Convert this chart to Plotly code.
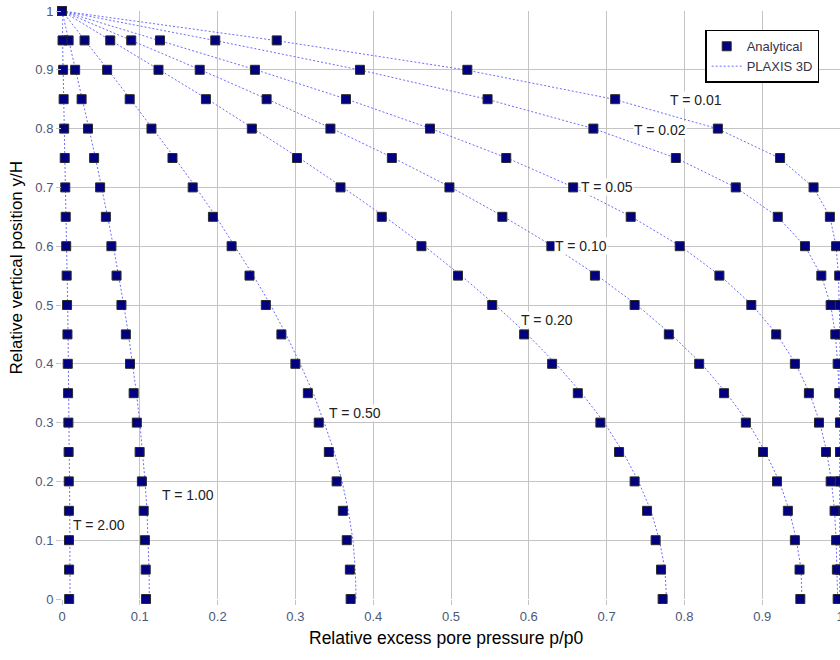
import plotly.graph_objects as go

# Relative vertical position y/H (top to bottom)
y_pos = [1.00, 0.95, 0.90, 0.85, 0.80, 0.75, 0.70, 0.65, 0.60, 0.55, 0.50,
         0.45, 0.40, 0.35, 0.30, 0.25, 0.20, 0.15, 0.10, 0.05, 0.00]

time_labels = ["T = 0.01", "T = 0.02", "T = 0.05", "T = 0.10",
               "T = 0.20", "T = 0.50", "T = 1.00", "T = 2.00"]

# Analytical solution p/p0
ana_t001 = [0.000, 0.276, 0.521, 0.711, 0.843, 0.923, 0.966, 0.987, 0.995, 0.999, 1.000,
            1.000, 1.000, 1.000, 1.000, 1.000, 1.000, 1.000, 1.000, 1.000, 1.000]
ana_t002 = [0.000, 0.197, 0.383, 0.547, 0.683, 0.789, 0.866, 0.920, 0.955, 0.976, 0.988,
            0.994, 0.997, 0.999, 1.000, 1.000, 1.000, 1.000, 1.000, 1.000, 1.000]
ana_t005 = [0.000, 0.126, 0.248, 0.365, 0.473, 0.571, 0.657, 0.731, 0.794, 0.845, 0.886,
            0.918, 0.942, 0.960, 0.973, 0.982, 0.988, 0.993, 0.995, 0.996, 0.997]
ana_t010 = [0.000, 0.089, 0.177, 0.263, 0.345, 0.424, 0.498, 0.566, 0.629, 0.685, 0.736,
            0.780, 0.819, 0.851, 0.879, 0.901, 0.919, 0.933, 0.942, 0.948, 0.949]
ana_t020 = [0.000, 0.062, 0.124, 0.185, 0.244, 0.302, 0.358, 0.411, 0.462, 0.509, 0.553,
            0.594, 0.630, 0.663, 0.692, 0.716, 0.736, 0.752, 0.763, 0.770, 0.772]
ana_t050 = [0.000, 0.029, 0.058, 0.087, 0.115, 0.142, 0.168, 0.194, 0.218, 0.241, 0.262,
            0.282, 0.300, 0.316, 0.330, 0.343, 0.353, 0.361, 0.366, 0.370, 0.371]
ana_t100 = [0.0000, 0.0085, 0.0169, 0.0252, 0.0334, 0.0413, 0.0490, 0.0564, 0.0635, 0.0701, 0.0764,
            0.0821, 0.0874, 0.0921, 0.0962, 0.0998, 0.1027, 0.1050, 0.1066, 0.1076, 0.1080]
ana_t200 = [0.0000, 0.0007, 0.0014, 0.0021, 0.0028, 0.0035, 0.0042, 0.0048, 0.0054, 0.0060, 0.0065,
            0.0070, 0.0074, 0.0078, 0.0082, 0.0085, 0.0087, 0.0089, 0.0090, 0.0091, 0.0092]

# PLAXIS 3D results p/p0
plx_t001 = [0.000, 0.274, 0.518, 0.709, 0.842, 0.922, 0.966, 0.987, 0.995, 0.998, 0.999,
            1.000, 1.000, 1.000, 1.000, 1.000, 1.000, 1.000, 1.000, 1.000, 1.000]
plx_t002 = [0.000, 0.196, 0.382, 0.546, 0.683, 0.789, 0.866, 0.920, 0.955, 0.976, 0.988,
            0.994, 0.997, 0.999, 1.000, 1.000, 1.000, 1.000, 1.000, 1.000, 1.000]
plx_t005 = [0.000, 0.126, 0.249, 0.366, 0.474, 0.572, 0.658, 0.732, 0.795, 0.846, 0.887,
            0.919, 0.943, 0.961, 0.974, 0.983, 0.989, 0.993, 0.995, 0.996, 0.997]
plx_t010 = [0.000, 0.089, 0.178, 0.264, 0.347, 0.426, 0.500, 0.568, 0.631, 0.688, 0.739,
            0.783, 0.822, 0.854, 0.882, 0.904, 0.922, 0.935, 0.944, 0.950, 0.951]
plx_t020 = [0.000, 0.063, 0.125, 0.187, 0.246, 0.305, 0.361, 0.415, 0.466, 0.513, 0.557,
            0.598, 0.635, 0.668, 0.697, 0.721, 0.741, 0.757, 0.768, 0.775, 0.777]
plx_t050 = [0.000, 0.030, 0.059, 0.088, 0.117, 0.145, 0.172, 0.198, 0.222, 0.246, 0.268,
            0.288, 0.306, 0.323, 0.337, 0.350, 0.360, 0.368, 0.374, 0.377, 0.378]
plx_t100 = [0.0000, 0.0088, 0.0176, 0.0262, 0.0347, 0.0430, 0.0510, 0.0587, 0.0660, 0.0729, 0.0794,
            0.0854, 0.0908, 0.0957, 0.1000, 0.1037, 0.1068, 0.1092, 0.1109, 0.1119, 0.1123]
plx_t200 = [0.0000, 0.0008, 0.0016, 0.0024, 0.0032, 0.0039, 0.0047, 0.0054, 0.0060, 0.0067, 0.0073,
            0.0078, 0.0083, 0.0087, 0.0091, 0.0095, 0.0098, 0.0100, 0.0101, 0.0102, 0.0103]

# Curve label positions (data coords)
label_x = [0.815, 0.768, 0.700, 0.667, 0.623, 0.377, 0.162, 0.048]
label_y = [0.849, 0.798, 0.700, 0.600, 0.475, 0.316, 0.177, 0.126]

tick_vals = [0, 0.1, 0.2, 0.3, 0.4, 0.5, 0.6, 0.7, 0.8, 0.9, 1]
tick_text = ["0", "0.1", "0.2", "0.3", "0.4", "0.5", "0.6", "0.7", "0.8", "0.9", "1"]

analytical = [ana_t001, ana_t002, ana_t005, ana_t010, ana_t020, ana_t050, ana_t100, ana_t200]
plaxis = [plx_t001, plx_t002, plx_t005, plx_t010, plx_t020, plx_t050, plx_t100, plx_t200]

FONT = "Liberation Sans, Arial, sans-serif"
TICK_COLOR = "#4a5878"
GRID = "#c4c4c4"

fig = go.Figure()

for i, vals in enumerate(plaxis):
    fig.add_trace(go.Scatter(
        x=vals, y=y_pos, mode="lines", name="PLAXIS 3D",
        legendgroup="plaxis", showlegend=(i == 0), legendrank=2,
        line=dict(color="#6c6cff", width=1, dash="2px,2px"),
        cliponaxis=False, hoverinfo="skip",
    ))

for i, vals in enumerate(analytical):
    fig.add_trace(go.Scatter(
        x=vals, y=y_pos, mode="markers", name="Analytical",
        legendgroup="analytical", showlegend=(i == 0), legendrank=1,
        marker=dict(symbol="square", size=9, color="#000080",
                    line=dict(color="#2a2a2a", width=1)),
        cliponaxis=False,
    ))

for txt, lx, ly in zip(time_labels, label_x, label_y):
    fig.add_annotation(
        x=lx, y=ly, xref="x", yref="y", text=txt, showarrow=False,
        font=dict(family=FONT, size=14, color="#222222"),
        bgcolor="white", borderpad=0, xanchor="center", yanchor="middle",
    )

fig.add_annotation(
    x=0.494, y=-0.0663, xref="paper", yref="paper",
    text="Relative excess pore pressure p/p0", showarrow=False,
    font=dict(family=FONT, size=17.5, color="#000000"),
    xanchor="center", yanchor="middle",
)
fig.add_annotation(
    x=-0.0591, y=0.5638, xref="paper", yref="paper",
    text="Relative vertical position y/H", showarrow=False, textangle=-90,
    font=dict(family=FONT, size=17, color="#000000"),
    xanchor="center", yanchor="middle",
)

axis_common = dict(
    range=[0, 1], tickvals=tick_vals, ticktext=tick_text,
    showgrid=True, gridcolor=GRID, gridwidth=1,
    zeroline=False, showline=False,
    ticks="outside", ticklen=5, tickcolor=GRID, tickwidth=1,
    tickfont=dict(family=FONT, size=13, color=TICK_COLOR),
    ticklabeloverflow="allow",
    fixedrange=True, automargin=False,
)

fig.update_layout(
    width=840, height=660,
    margin=dict(l=62, r=0, t=11, b=61, autoexpand=False),
    paper_bgcolor="white", plot_bgcolor="white",
    font=dict(family=FONT),
    xaxis=axis_common,
    yaxis=axis_common,
    showlegend=True,
    legend=dict(
        x=0.9, y=0.968, xanchor="center", yanchor="top",
        bgcolor="white", bordercolor="#000000", borderwidth=1.5,
        font=dict(family=FONT, size=13, color="#333344"),
        tracegroupgap=0, itemwidth=30,
    ),
)

# remove the default 8px page margin so the 840x660 figure fills the window exactly
fig.write_html("out.html", config={"displayModeBar": False},
               post_script="document.body.style.margin='0px';")
